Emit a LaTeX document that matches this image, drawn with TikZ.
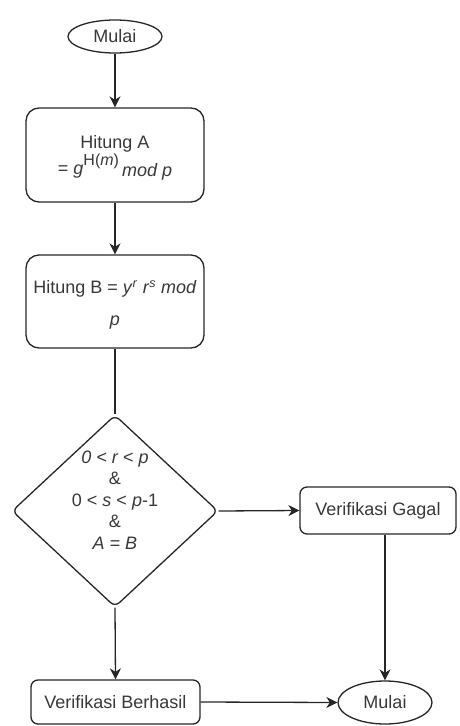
\documentclass[tikz,border=0pt]{standalone}
\usepackage{fontspec}
\setmainfont{Liberation Sans}
\usetikzlibrary{shapes.geometric,arrows.meta}
\begin{document}
\begin{tikzpicture}[x=1pt,y=-1pt,
  every node/.style={text=black!78, font=\fontsize{18}{22}\selectfont, align=center},
  ln/.style={draw=black!85, line width=1.3pt},
  arr/.style={ln, -{Stealth[length=11pt,width=11pt,inset=3.5pt]}},
  term/.style={ellipse, draw=black!85, line width=1.3pt, inner sep=0pt},
  proc/.style={rectangle, draw=black!85, line width=1.3pt, inner sep=0pt}
]
\useasboundingbox (0,0) rectangle (460,726);

\node[term, minimum width=94pt, minimum height=33pt] (S) at (115,36.5) {Mulai};

\node[proc, rounded corners=13pt, minimum width=178pt, minimum height=94pt] (A) at (115,155) {};
\node (At) at (115,158) {Hitung A\\[1pt] = \textit{g}\raisebox{0.5em}{\fontsize{16}{16}\selectfont H(\textit{m})}\,\raisebox{-0.12em}{\textit{mod p}}};

\node[proc, rounded corners=13pt, minimum width=178pt, minimum height=93pt] (B) at (115,301.5) {};
\node[font=\fontsize{18}{32}\selectfont] (Bt) at (115,305) {Hitung B = \textit{y}\textsuperscript{\textit{r}} \textit{r}\textsuperscript{\textit{s}} \textit{mod}\\ \textit{p}};

\node[diamond, draw=black!85, line width=1.3pt, inner sep=0pt, minimum width=206pt, minimum height=192pt, rounded corners=6pt] (D) at (115,511) {};
\node[font=\fontsize{18}{21.5}\selectfont] (Dt) at (115,500) {\textit{0 < r < p}\\ \&\\ 0 < \textit{s} < \textit{p}-1\\ \&\\ \textit{A = B}};

\node[proc, rounded corners=7pt, minimum width=156pt, minimum height=47pt] (G) at (378,510.5) {Verifikasi Gagal};

\node[proc, rounded corners=7pt, minimum width=169pt, minimum height=44pt] (V) at (115.5,702) {Verifikasi Berhasil};

\node[term, minimum width=94pt, minimum height=43pt] (E) at (385,702.5) {Mulai};

\draw[arr] (S) -- (A);
\draw[arr] (A) -- (B);
\draw[ln] (B) -- (D);
\draw[arr] (D.east) -- (G.west);
\draw[arr] (D.south) -- (V.north);
\draw[arr] (V.east) -- (E.west);
\draw[arr] (E |- G.south) -- (E.north);
\end{tikzpicture}
\end{document}
